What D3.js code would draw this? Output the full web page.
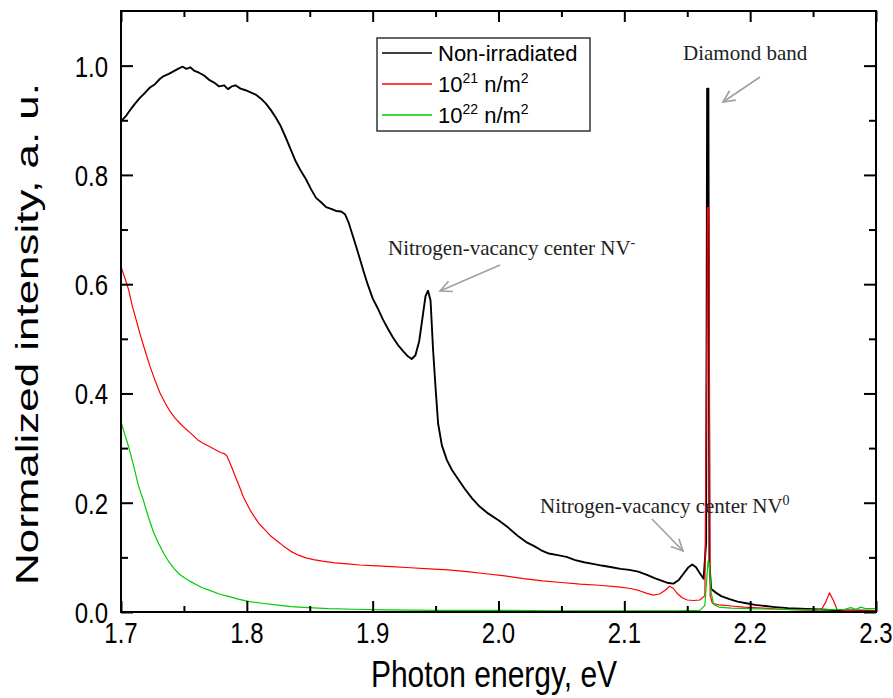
<!DOCTYPE html>
<html>
<head>
<meta charset="utf-8">
<script src="https://cdn.jsdelivr.net/npm/d3@7"></script>
<style>
  body { margin: 0; background: #fff; }
  svg { display: block; }
</style>
</head>
<body>
<svg id="my_dataviz"></svg>
<script>
// data: [photon energy (eV), normalized intensity]
var nonIrradiated = [[1.700,0.898],[1.704,0.908],[1.708,0.921],[1.711,0.930],[1.715,0.941],[1.719,0.950],[1.723,0.960],[1.727,0.966],[1.731,0.976],[1.734,0.981],[1.738,0.985],[1.742,0.990],[1.746,0.995],[1.749,0.998],[1.752,0.994],[1.755,0.997],[1.758,0.991],[1.762,0.987],[1.766,0.982],[1.770,0.974],[1.774,0.969],[1.778,0.962],[1.782,0.964],[1.785,0.957],[1.788,0.962],[1.791,0.964],[1.795,0.958],[1.799,0.955],[1.803,0.951],[1.807,0.947],[1.811,0.940],[1.815,0.931],[1.819,0.919],[1.823,0.905],[1.827,0.889],[1.831,0.868],[1.835,0.846],[1.839,0.824],[1.843,0.807],[1.847,0.792],[1.851,0.774],[1.855,0.758],[1.859,0.750],[1.863,0.741],[1.867,0.738],[1.871,0.734],[1.875,0.733],[1.878,0.728],[1.881,0.712],[1.884,0.690],[1.887,0.668],[1.890,0.645],[1.893,0.622],[1.896,0.600],[1.900,0.574],[1.904,0.556],[1.908,0.536],[1.912,0.519],[1.916,0.503],[1.920,0.489],[1.924,0.478],[1.928,0.468],[1.931,0.463],[1.934,0.470],[1.937,0.496],[1.940,0.545],[1.942,0.578],[1.944,0.588],[1.946,0.570],[1.948,0.480],[1.950,0.410],[1.952,0.345],[1.955,0.305],[1.959,0.278],[1.963,0.260],[1.968,0.243],[1.973,0.226],[1.979,0.208],[1.985,0.193],[1.992,0.180],[2.000,0.168],[2.008,0.154],[2.016,0.138],[2.022,0.128],[2.028,0.121],[2.034,0.113],[2.040,0.107],[2.047,0.104],[2.054,0.101],[2.061,0.095],[2.068,0.091],[2.075,0.088],[2.082,0.085],[2.090,0.082],[2.097,0.079],[2.104,0.077],[2.111,0.074],[2.118,0.068],[2.124,0.062],[2.130,0.057],[2.135,0.053],[2.139,0.052],[2.143,0.058],[2.147,0.070],[2.151,0.082],[2.154,0.087],[2.157,0.082],[2.160,0.071],[2.163,0.061],[2.165,0.128],[2.1658,0.958],[2.1668,0.958],[2.1676,0.090],[2.169,0.042],[2.173,0.035],[2.177,0.029],[2.183,0.024],[2.190,0.019],[2.197,0.016],[2.204,0.013],[2.212,0.011],[2.220,0.009],[2.230,0.007],[2.240,0.006],[2.250,0.005],[2.260,0.004],[2.270,0.003],[2.285,0.003],[2.300,0.002]];

var dose21 = [[1.700,0.632],[1.703,0.612],[1.706,0.590],[1.709,0.560],[1.712,0.535],[1.715,0.510],[1.719,0.479],[1.723,0.450],[1.727,0.424],[1.731,0.401],[1.735,0.383],[1.739,0.367],[1.743,0.355],[1.747,0.345],[1.751,0.336],[1.756,0.326],[1.761,0.315],[1.766,0.308],[1.771,0.302],[1.775,0.297],[1.779,0.292],[1.782,0.290],[1.784,0.286],[1.786,0.276],[1.788,0.265],[1.791,0.247],[1.794,0.230],[1.797,0.212],[1.800,0.198],[1.803,0.185],[1.806,0.174],[1.810,0.161],[1.815,0.149],[1.819,0.139],[1.824,0.130],[1.829,0.121],[1.835,0.111],[1.841,0.104],[1.847,0.099],[1.853,0.096],[1.860,0.093],[1.870,0.090],[1.880,0.088],[1.890,0.086],[1.900,0.085],[1.915,0.083],[1.930,0.081],[1.945,0.079],[1.960,0.077],[1.975,0.074],[1.990,0.070],[2.005,0.066],[2.020,0.061],[2.035,0.057],[2.050,0.054],[2.065,0.051],[2.080,0.049],[2.095,0.046],[2.105,0.043],[2.112,0.039],[2.118,0.034],[2.123,0.031],[2.128,0.033],[2.132,0.039],[2.136,0.047],[2.139,0.043],[2.142,0.034],[2.146,0.026],[2.150,0.022],[2.155,0.021],[2.160,0.022],[2.164,0.030],[2.1662,0.740],[2.1672,0.740],[2.1682,0.030],[2.170,0.016],[2.175,0.013],[2.185,0.011],[2.195,0.009],[2.210,0.007],[2.225,0.005],[2.240,0.004],[2.252,0.003],[2.257,0.006],[2.260,0.018],[2.263,0.035],[2.266,0.022],[2.269,0.005],[2.275,0.003],[2.290,0.002],[2.300,0.002]];

var dose22 = [[1.700,0.348],[1.703,0.325],[1.706,0.303],[1.710,0.268],[1.714,0.230],[1.718,0.203],[1.722,0.172],[1.726,0.145],[1.730,0.125],[1.734,0.107],[1.738,0.092],[1.742,0.080],[1.746,0.070],[1.750,0.063],[1.755,0.056],[1.760,0.050],[1.765,0.044],[1.770,0.040],[1.778,0.033],[1.786,0.028],[1.794,0.023],[1.802,0.019],[1.812,0.016],[1.823,0.013],[1.835,0.010],[1.849,0.008],[1.865,0.006],[1.885,0.005],[1.910,0.004],[1.950,0.003],[2.000,0.003],[2.050,0.002],[2.100,0.002],[2.140,0.002],[2.160,0.003],[2.164,0.012],[2.1665,0.093],[2.1675,0.090],[2.169,0.035],[2.171,0.014],[2.175,0.009],[2.185,0.007],[2.200,0.006],[2.220,0.005],[2.240,0.004],[2.260,0.004],[2.275,0.005],[2.280,0.008],[2.284,0.005],[2.288,0.009],[2.292,0.006],[2.300,0.006]];

var xTicks = [1.7, 1.8, 1.9, 2.0, 2.1, 2.2, 2.3];
var xMinor = [1.75, 1.85, 1.95, 2.05, 2.15, 2.25];
var yTicks = [0.0, 0.2, 0.4, 0.6, 0.8, 1.0];
var yMinor = [0.1, 0.3, 0.5, 0.7, 0.9];

// set the dimensions of the graph
var W = 893, H = 698;
var plotLeft = 121, plotRight = 876, plotTop = 11, plotBottom = 612;

var svg = d3.select("#my_dataviz")
    .attr("width", W)
    .attr("height", H);

var x = d3.scaleLinear().domain([1.7, 2.3]).range([plotLeft, plotRight]);
var y = d3.scaleLinear().domain([0, 1.1]).range([plotBottom, plotTop]);

// curves
var line = d3.line()
  .x(function(d) { return x(d[0]); })
  .y(function(d) { return y(d[1]); });

var series = [
  {data: nonIrradiated, color: "#000000", w: 1.9},
  {data: dose21, color: "#ff0000", w: 1.2},
  {data: dose22, color: "#00cc00", w: 1.2}
];

svg.append("g").selectAll("path")
  .data(series)
  .enter()
  .append("path")
    .attr("fill", "none")
    .attr("stroke", function(d) { return d.color; })
    .attr("stroke-width", function(d) { return d.w; })
    .attr("stroke-linejoin", "round")
    .attr("d", function(d) { return line(d.data); });

// axes: ticks pointing inward on all four sides
function noLabels() { return ""; }
svg.append("g").attr("transform", "translate(0," + plotBottom + ")")
  .call(d3.axisTop(x).tickValues(xTicks).tickSize(11).tickFormat(noLabels));
svg.append("g").attr("transform", "translate(0," + plotBottom + ")")
  .call(d3.axisTop(x).tickValues(xMinor).tickSize(6).tickFormat(noLabels));
svg.append("g").attr("transform", "translate(0," + plotTop + ")")
  .call(d3.axisBottom(x).tickValues(xTicks).tickSize(11).tickFormat(noLabels));
svg.append("g").attr("transform", "translate(0," + plotTop + ")")
  .call(d3.axisBottom(x).tickValues(xMinor).tickSize(6).tickFormat(noLabels));
svg.append("g").attr("transform", "translate(" + plotLeft + ",0)")
  .call(d3.axisRight(y).tickValues(yTicks).tickSize(12).tickFormat(noLabels));
svg.append("g").attr("transform", "translate(" + plotLeft + ",0)")
  .call(d3.axisRight(y).tickValues(yMinor).tickSize(7).tickFormat(noLabels));
svg.append("g").attr("transform", "translate(" + plotRight + ",0)")
  .call(d3.axisLeft(y).tickValues(yTicks).tickSize(12).tickFormat(noLabels));
svg.append("g").attr("transform", "translate(" + plotRight + ",0)")
  .call(d3.axisLeft(y).tickValues(yMinor).tickSize(7).tickFormat(noLabels));

svg.selectAll(".domain").remove();
svg.selectAll(".tick line").attr("stroke", "#000").attr("stroke-width", 2);

// frame
svg.append("rect")
  .attr("x", plotLeft).attr("y", plotTop)
  .attr("width", plotRight - plotLeft).attr("height", plotBottom - plotTop)
  .attr("fill", "none").attr("stroke", "#000").attr("stroke-width", 2);

// tick labels (the original glyphs look a little stretched vertically)
svg.append("g").selectAll("text")
  .data(xTicks)
  .enter().append("text")
    .attr("transform", function(d) { return "translate(" + x(d) + ",643) scale(1,1.25)"; })
    .attr("text-anchor", "middle")
    .attr("font-family", "Liberation Sans, Arial, sans-serif")
    .attr("font-size", 24)
    .text(function(d) { return d.toFixed(1); });

svg.append("g").selectAll("text")
  .data(yTicks)
  .enter().append("text")
    .attr("transform", function(d) { return "translate(108," + (y(d) + 11) + ") scale(1,1.25)"; })
    .attr("text-anchor", "end")
    .attr("font-family", "Liberation Sans, Arial, sans-serif")
    .attr("font-size", 24)
    .text(function(d) { return d.toFixed(1); });

// axis titles
svg.append("text")
  .attr("transform", "translate(494,687) scale(1,1.25)")
  .attr("text-anchor", "middle")
  .attr("font-family", "Liberation Sans, Arial, sans-serif")
  .attr("font-size", 30)
  .text("Photon energy, eV");

svg.append("text")
  .attr("transform", "translate(38,334) rotate(-90)")
  .attr("text-anchor", "middle")
  .attr("font-family", "Liberation Sans, Arial, sans-serif")
  .attr("font-size", 32)
  .attr("textLength", 502)
  .attr("lengthAdjust", "spacingAndGlyphs")
  .text("Normalized intensity, a. u.");

// legend
var legendItems = [
  {label: "Non-irradiated", color: "#000000"},
  {label: "10", sup: "21", color: "#ff0000"},
  {label: "10", sup: "22", color: "#00cc00"}
];
var legend = svg.append("g");
legend.append("rect")
  .attr("x", 377).attr("y", 38).attr("width", 213).attr("height", 93)
  .attr("fill", "#fff").attr("stroke", "#333").attr("stroke-width", 1.5);
legendItems.forEach(function(d, i) {
  var ly = 53 + i * 31;
  legend.append("line")
    .attr("x1", 382).attr("x2", 432).attr("y1", ly).attr("y2", ly)
    .attr("stroke", d.color).attr("stroke-width", 1.5);
  var t = legend.append("text")
    .attr("x", 438).attr("y", ly + 8)
    .attr("font-family", "Liberation Sans, Arial, sans-serif")
    .attr("font-size", 22);
  t.append("tspan").text(d.label);
  if (d.sup) {
    t.append("tspan").attr("font-size", 14).attr("dy", -9).text(d.sup);
    t.append("tspan").attr("dy", 9).text(" n/m");
    t.append("tspan").attr("font-size", 14).attr("dy", -9).text("2");
  }
});

// annotations with grey arrows
var notes = [
  {text: "Diamond band", sup: "", tx: 683, ty: 60, x1: 760, y1: 77, x2: 723, y2: 102},
  {text: "Nitrogen-vacancy center NV", sup: "-", tx: 388, ty: 255, x1: 500, y1: 265, x2: 440, y2: 291},
  {text: "Nitrogen-vacancy center NV", sup: "0", tx: 540, ty: 513, x1: 652, y1: 519, x2: 683, y2: 551}
];
notes.forEach(function(n) {
  var t = svg.append("text")
    .attr("x", n.tx).attr("y", n.ty)
    .attr("font-family", "Liberation Serif, Times New Roman, serif")
    .attr("font-size", 21)
    .attr("fill", "#222");
  t.append("tspan").text(n.text);
  if (n.sup) t.append("tspan").attr("font-size", 14).attr("dy", -8).text(n.sup);

  var ang = Math.atan2(n.y2 - n.y1, n.x2 - n.x1), len = 13, spread = 0.45;
  svg.append("line")
    .attr("x1", n.x1).attr("y1", n.y1).attr("x2", n.x2).attr("y2", n.y2)
    .attr("stroke", "#a0a0a0").attr("stroke-width", 1.6);
  svg.append("polyline")
    .attr("points", [
      [n.x2 - len * Math.cos(ang - spread), n.y2 - len * Math.sin(ang - spread)],
      [n.x2, n.y2],
      [n.x2 - len * Math.cos(ang + spread), n.y2 - len * Math.sin(ang + spread)]
    ].map(function(p) { return p.join(","); }).join(" "))
    .attr("fill", "none").attr("stroke", "#a0a0a0").attr("stroke-width", 1.6);
});
</script>
</body>
</html>
